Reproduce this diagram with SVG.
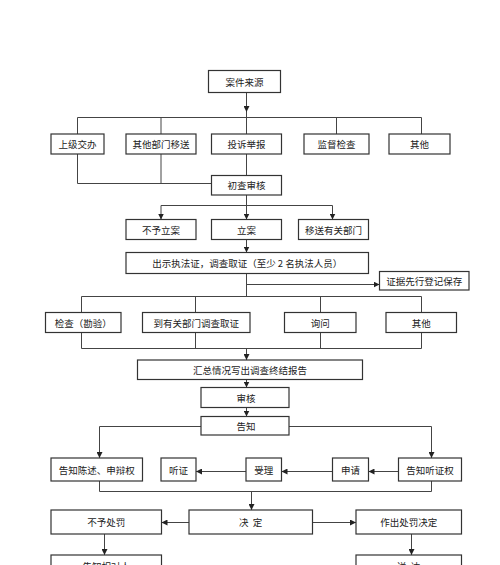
<svg xmlns="http://www.w3.org/2000/svg" width="500" height="565" viewBox="0 0 500 565">
<style>
.b{fill:#fff;stroke:#333;stroke-width:1.2}
.t{font-family:"Noto Sans CJK SC","Liberation Sans",sans-serif;font-size:9.5px;fill:#222;text-anchor:middle;dominant-baseline:central}
.c{fill:none;stroke:#444;stroke-width:1}
</style>
<defs>
<marker id="a" viewBox="0 0 10 10" refX="10" refY="5" markerWidth="6" markerHeight="6" markerUnits="userSpaceOnUse" orient="auto">
<path d="M0,0L10,5L0,10z" fill="#222"/>
</marker>
</defs>
<rect width="500" height="565" fill="#fff"/>
<g id="connectors">
<path class="c" d="M246.5,92.5V112" marker-end="url(#a)"/>
<path class="c" d="M246.5,112V117.5M77.5,134V117.5H421.5V134M161,117.5V134M246.5,117.5V134M336.5,117.5V134"/>
<path class="c" d="M77.5,154V183.5H211.5M161,154V183.5M246.5,154V175.5"/>
<path class="c" d="M246.5,195V205.5M161,205.5H332.5"/>
<path class="c" d="M161,205.5V219.5" marker-end="url(#a)"/>
<path class="c" d="M246.5,205.5V219.5" marker-end="url(#a)"/>
<path class="c" d="M332.5,205.5V219.5" marker-end="url(#a)"/>
<path class="c" d="M246.5,239.5V252.5" marker-end="url(#a)"/>
<path class="c" d="M246.5,273.5V296.5M81.5,312.5V296.5H421.5V312.5M195.5,296.5V312.5M320.5,296.5V312.5"/>
<path class="c" d="M246.5,284.5H379.5" marker-end="url(#a)"/>
<path class="c" d="M81.5,332.5V348.5H421.5V332.5M195.5,332.5V348.5M320.5,332.5V348.5"/>
<path class="c" d="M246.5,348.5V360" marker-end="url(#a)"/>
<path class="c" d="M246.5,379.5V387.5" marker-end="url(#a)"/>
<path class="c" d="M246.5,407.5V416.5" marker-end="url(#a)"/>
<path class="c" d="M201,426.5H99.5V458" marker-end="url(#a)"/>
<path class="c" d="M289,426.5H431.5V458" marker-end="url(#a)"/>
<path class="c" d="M398.5,471.5H368.5" marker-end="url(#a)"/>
<path class="c" d="M332.5,471.5H281.5" marker-end="url(#a)"/>
<path class="c" d="M246,471.5H196" marker-end="url(#a)"/>
<path class="c" d="M99.5,481V491.5H431.5V481"/>
<path class="c" d="M251.5,491.5V510" marker-end="url(#a)"/>
<path class="c" d="M189,522.5H161.5" marker-end="url(#a)"/>
<path class="c" d="M312.5,522.5H356" marker-end="url(#a)"/>
<path class="c" d="M104.5,534V555" marker-end="url(#a)"/>
<path class="c" d="M411.5,534V555" marker-end="url(#a)"/>
</g>
<g id="n-source"><rect class="b" x="208.5" y="70.5" width="72" height="22"/><text class="t" x="244.5" y="81.5">案件来源</text></g>
<g id="n-superior"><rect class="b" x="51" y="134" width="53" height="20"/><text class="t" x="77.5" y="144">上级交办</text></g>
<g id="n-transfer"><rect class="b" x="126" y="134" width="70" height="20"/><text class="t" x="161" y="144">其他部门移送</text></g>
<g id="n-complaint"><rect class="b" x="211.5" y="134" width="70" height="20"/><text class="t" x="246.5" y="144">投诉举报</text></g>
<g id="n-inspect"><rect class="b" x="304" y="134" width="65" height="20"/><text class="t" x="336.5" y="144">监督检查</text></g>
<g id="n-other1"><rect class="b" x="389" y="134" width="61" height="20"/><text class="t" x="419.5" y="144">其他</text></g>
<g id="n-prelim"><rect class="b" x="211.5" y="175.5" width="70" height="19.5"/><text class="t" x="246.5" y="185.3">初查审核</text></g>
<g id="n-noCase"><rect class="b" x="126" y="219.5" width="70" height="20"/><text class="t" x="161" y="229.5">不予立案</text></g>
<g id="n-case"><rect class="b" x="211.5" y="219.5" width="70" height="20"/><text class="t" x="246.5" y="229.5">立案</text></g>
<g id="n-moveDept"><rect class="b" x="298.5" y="219.5" width="70" height="20"/><text class="t" x="333.5" y="229.5">移送有关部门</text></g>
<g id="n-investigate"><rect class="b" x="126" y="252.5" width="242.5" height="21"/><text class="t" x="247.2" y="263">出示执法证，调查取证（至少 2 名执法人员）</text></g>
<g id="n-evidence"><rect class="b" x="379.5" y="271.5" width="89.5" height="18.5"/><text class="t" x="424.2" y="280.8">证据先行登记保存</text></g>
<g id="n-check"><rect class="b" x="45.5" y="312.5" width="75.5" height="20"/><text class="t" x="83.2" y="322.5">检查（勘验）</text></g>
<g id="n-deptInv"><rect class="b" x="142.5" y="312.5" width="107.5" height="20"/><text class="t" x="196.2" y="322.5">到有关部门调查取证</text></g>
<g id="n-inquiry"><rect class="b" x="284.5" y="312.5" width="71.5" height="20"/><text class="t" x="320.2" y="322.5">询问</text></g>
<g id="n-other2"><rect class="b" x="386" y="312.5" width="70.5" height="20"/><text class="t" x="421.2" y="322.5">其他</text></g>
<g id="n-report"><rect class="b" x="137.5" y="360" width="225" height="19.5"/><text class="t" x="250" y="369.8">汇总情况写出调查终结报告</text></g>
<g id="n-review"><rect class="b" x="201" y="387.5" width="88" height="20"/><text class="t" x="246" y="397.5">审核</text></g>
<g id="n-notify"><rect class="b" x="201" y="416.5" width="88" height="18.5"/><text class="t" x="246" y="425.8">告知</text></g>
<g id="n-statement"><rect class="b" x="51" y="458" width="91.5" height="23"/><text class="t" x="96.7" y="469.5">告知陈述、申辩权</text></g>
<g id="n-hearing"><rect class="b" x="161" y="458" width="35" height="23"/><text class="t" x="178.5" y="469.5">听证</text></g>
<g id="n-accept"><rect class="b" x="246" y="458" width="35.5" height="23"/><text class="t" x="263.7" y="469.5">受理</text></g>
<g id="n-apply"><rect class="b" x="332.5" y="458" width="36" height="23"/><text class="t" x="350.5" y="469.5">申请</text></g>
<g id="n-hearingRight"><rect class="b" x="398.5" y="458" width="63" height="23"/><text class="t" x="430" y="469.5">告知听证权</text></g>
<g id="n-decide"><rect class="b" x="189" y="510" width="123.5" height="24"/><text class="t" x="250.7" y="522" xml:space="preserve">决  定</text></g>
<g id="n-noPenalty"><rect class="b" x="51" y="510" width="110.5" height="24"/><text class="t" x="106.2" y="522">不予处罚</text></g>
<g id="n-penalty"><rect class="b" x="356" y="510" width="105.5" height="24"/><text class="t" x="408.7" y="522">作出处罚决定</text></g>
<g id="n-tellParty"><rect class="b" x="51" y="555" width="110.5" height="22"/><text class="t" x="106.2" y="566">告知相对人</text></g>
<g id="n-deliver"><rect class="b" x="356" y="555" width="105.5" height="22"/><text class="t" x="408.7" y="566" xml:space="preserve">送  达</text></g>
</svg>
